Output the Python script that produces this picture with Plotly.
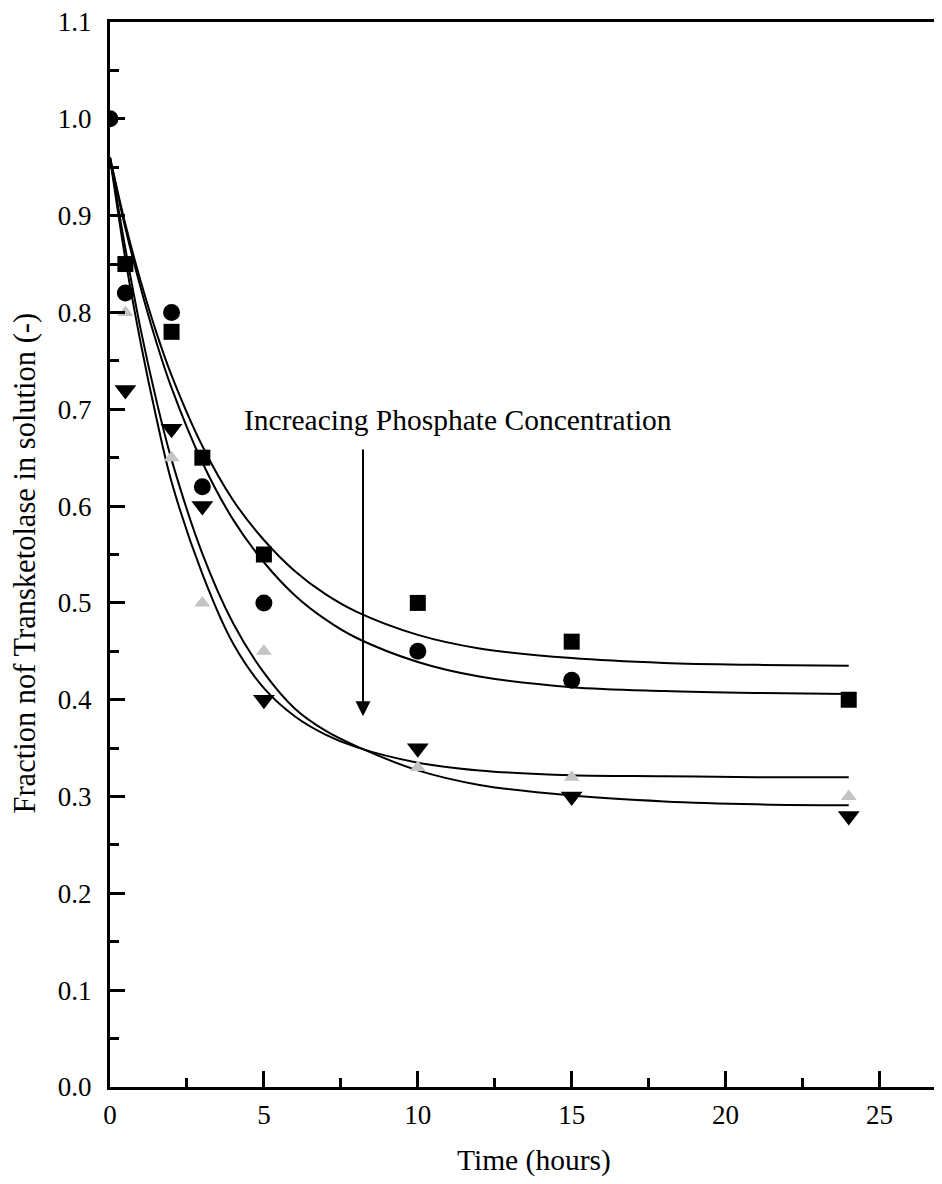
import plotly.graph_objects as go

# ---- measured data ----
t_square = [0.5, 2, 3, 5, 10, 15, 24]
y_square = [0.85, 0.78, 0.65, 0.55, 0.50, 0.46, 0.40]

t_circle = [0, 0.5, 2, 3, 5, 10, 15]
y_circle = [1.00, 0.82, 0.80, 0.62, 0.50, 0.45, 0.42]

t_tri_up = [0.5, 2, 3, 5, 10, 15, 24]
y_tri_up = [0.80, 0.65, 0.50, 0.45, 0.33, 0.32, 0.30]

t_tri_down = [0.5, 2, 3, 5, 10, 15, 24]
y_tri_down = [0.72, 0.68, 0.60, 0.40, 0.35, 0.30, 0.28]

# ---- fitted curves ----
t_fit = [0, 0.5, 1, 1.5, 2, 3, 4, 5, 6, 7, 8, 10, 12, 15, 18, 21, 24]
fit_square = [0.960, 0.891, 0.832, 0.780, 0.735, 0.662, 0.606, 0.565, 0.533, 0.509, 0.491,
              0.467, 0.453, 0.443, 0.438, 0.436, 0.435]
fit_circle = [0.960, 0.887, 0.825, 0.770, 0.722, 0.645, 0.586, 0.542, 0.508, 0.483, 0.464,
              0.439, 0.424, 0.413, 0.409, 0.407, 0.406]
fit_tri_up = [0.960, 0.855, 0.768, 0.692, 0.625, 0.530, 0.458, 0.412, 0.383, 0.364, 0.351,
              0.335, 0.327, 0.322, 0.321, 0.320, 0.320]
fit_tri_down = [0.960, 0.866, 0.782, 0.710, 0.648, 0.551, 0.479, 0.428, 0.391, 0.368, 0.352,
                0.327, 0.312, 0.301, 0.295, 0.292, 0.291]

x_ticks = [0, 5, 10, 15, 20, 25]
y_ticks = [0.0, 0.1, 0.2, 0.3, 0.4, 0.5, 0.6, 0.7, 0.8, 0.9, 1.0, 1.1]

annot_text = "Increacing Phosphate Concentration"
arrow_t = 8.22
arrow_from = 0.66
arrow_to = 0.383

FONT = "Liberation Serif"

fig = go.Figure()

for fy in [fit_square, fit_circle, fit_tri_up, fit_tri_down]:
    fig.add_trace(go.Scatter(x=t_fit, y=fy, mode="lines",
                             line=dict(color="black", width=2, shape="spline"),
                             showlegend=False, hoverinfo="skip"))

fig.add_trace(go.Scatter(x=t_tri_up, y=y_tri_up, mode="markers",
                         marker=dict(symbol="triangle-up", size=14, color="#c4c4c4"),
                         showlegend=False))
fig.add_trace(go.Scatter(x=t_tri_down, y=y_tri_down, mode="markers",
                         marker=dict(symbol="triangle-down", size=19, color="black"),
                         showlegend=False))
fig.add_trace(go.Scatter(x=t_circle, y=y_circle, mode="markers",
                         marker=dict(symbol="circle", size=17, color="black"),
                         showlegend=False))
fig.add_trace(go.Scatter(x=t_square, y=y_square, mode="markers",
                         marker=dict(symbol="square", size=16, color="black"),
                         showlegend=False))

fig.add_annotation(x=arrow_t, y=arrow_to, ax=arrow_t, ay=arrow_from,
                   xref="x", yref="y", axref="x", ayref="y",
                   text="", showarrow=True, arrowhead=2, arrowsize=1.5,
                   arrowwidth=2, arrowcolor="black")
fig.add_annotation(x=11.31, y=0.689, xref="x", yref="y", text=annot_text,
                   showarrow=False, font=dict(family=FONT, size=29.5, color="black"))

fig.add_annotation(x=13.78, y=0, xref="x", yref="paper", yshift=-73,
                   xanchor="center", yanchor="middle",
                   text="Time (hours)", showarrow=False,
                   font=dict(family=FONT, size=29.5, color="black"))
fig.add_annotation(x=0, y=0.5, xref="paper", yref="paper", xshift=-86, yshift=-9,
                   xanchor="center", yanchor="middle",
                   text="Fraction nof Transketolase in solution (-)", textangle=-90,
                   showarrow=False, font=dict(family=FONT, size=30.5, color="black"))

fig.update_layout(
    width=934, height=1176,
    margin=dict(l=102, r=0, t=14, b=97),
    plot_bgcolor="white", paper_bgcolor="white",
    font=dict(family=FONT, size=27, color="black"),
    showlegend=False,
)
fig.update_xaxes(range=[0, 27.03], tickvals=x_ticks, ticks="inside", ticklen=16, tickwidth=2.5,
                 tickcolor="black", showline=True, linecolor="black", linewidth=3,
                 mirror=True, showgrid=False, zeroline=False,
                 ticklabelstandoff=2, ticklabeloverflow="allow",
                 minor=dict(dtick=2.5, tick0=0, ticks="inside", ticklen=9, tickwidth=2.5,
                            tickcolor="black", showgrid=False))
fig.update_yaxes(range=[0, 1.1], tickvals=y_ticks, tickformat=".1f", ticks="inside",
                 ticklen=15, tickwidth=2.5, tickcolor="black", showline=True,
                 linecolor="black", linewidth=3, mirror=False, showgrid=False,
                 zeroline=False, ticklabelstandoff=10, ticklabeloverflow="allow",
                 minor=dict(dtick=0.05, tick0=0, ticks="inside", ticklen=9, tickwidth=2.5,
                            tickcolor="black", showgrid=False))

fig.write_html("out.html")
